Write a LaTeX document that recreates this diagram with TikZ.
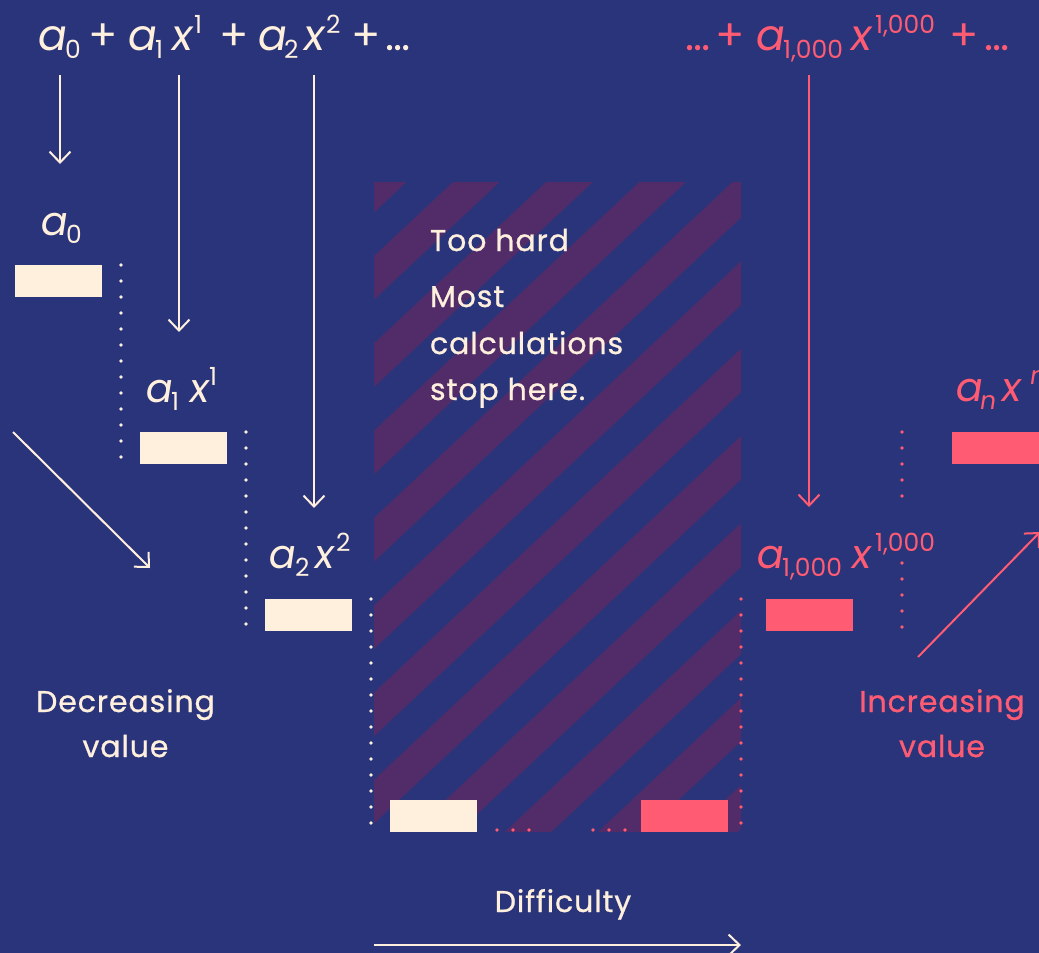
\documentclass[tikz,border=0pt]{standalone}
\usepackage{fontspec}
\setmainfont{Poppins}
\newfontfamily\txtfont[LetterSpace=3,FakeBold=0.8]{Poppins}
\newfontfamily\slfont[FakeSlant=0.15]{Poppins}
\usetikzlibrary{arrows.meta}
\definecolor{bg}{HTML}{29347A}
\definecolor{stripe}{HTML}{522C68}
\definecolor{cream}{HTML}{FFF0DE}
\definecolor{pinkc}{HTML}{FF5C73}
\newcommand\msb[1]{\raisebox{-8pt}{\fontsize{25}{25}\selectfont #1}}
\newcommand\msp[1]{\raisebox{17pt}{\fontsize{25}{25}\selectfont #1}}
\newcommand\va{{\slfont a}}
\newcommand\vx{{\slfont x}}
% \bx{width}{content}: fixed-width piece
\newcommand\bx[2]{\makebox[#1][l]{#2}}
\tikzset{
  formula/.style={inner sep=0pt, outer sep=0pt, anchor=base west, font=\fontsize{43}{49}\selectfont},
  lbl/.style={inner sep=0pt, outer sep=0pt, anchor=base west, font=\fontsize{40}{46}\selectfont},
  word/.style={inner sep=0pt, outer sep=0pt, anchor=base, font=\txtfont\fontsize{30}{36}\selectfont},
  wordl/.style={word, anchor=base west},
  bar/.style={rectangle, inner sep=0pt, outer sep=0pt, minimum width=87pt, minimum height=32pt},
  arr/.style={line width=2pt, -{Straight Barb[length=11pt,width=21pt,line width=2pt]}},
}
\begin{document}
\begin{tikzpicture}[x=1pt,y=-1pt]
\useasboundingbox (0,0) rectangle (1039,953);
\clip (0,0) rectangle (1039,953);
\fill[bg] (0,0) rectangle (1039,953);
% hatched area
\begin{scope}
  \clip (374,182) rectangle (741,831);
  \foreach \k in {-2,...,11}{
    \pgfmathsetmacro\a{606.5+87.3*\k}
    \fill[stripe] (370,{\a-0.937*370}) -- (745,{\a-0.937*745}) -- (745,{\a+43.6-0.937*745}) -- (370,{\a+43.6-0.937*370}) -- cycle;
  }
\end{scope}
% top formula (cream)
\begin{scope}[text=cream]
\node[formula] (t0) at (36,50) {\bx{29pt}{\va}\msb{0}};
\node[formula] (p1) at (88,50) {+};
\node[formula] (t1) at (126,50) {\bx{29pt}{\va}\bx{15pt}{\msb{1}}\bx{24pt}{\vx}\msp{1}};
\node[formula] (p2) at (219,50) {+};
\node[formula] (t2) at (256,50) {\bx{28pt}{\va}\bx{18pt}{\msb{2}}\bx{24pt}{\vx}\msp{2}};
\node[formula] (p3) at (351,50) {+};
\node[formula] (d1) at (385,50) {…};
\end{scope}
% top formula (pink)
\begin{scope}[text=pinkc]
\node[formula] (d2) at (685,50) {…};
\node[formula] (p4) at (715,50) {+};
\node[formula] (t3) at (754,50) {\bx{29pt}{\va}\bx{66pt}{\msb{1,000}}\bx{26pt}{\vx}\msp{1,000}};
\node[formula] (p5) at (949,50) {+};
\node[formula] (d3) at (984,50) {…};
\end{scope}
% labels
\node[lbl, text=cream] (l0) at (39,235) {\bx{27pt}{\va}\msb{0}};
\node[lbl, text=cream] (l1) at (144,402) {\bx{27pt}{\va}\bx{17pt}{\msb{1}}\bx{21pt}{\vx}\msp{1}};
\node[lbl, text=cream] (l2) at (267,568) {\bx{28pt}{\va}\bx{18pt}{\msb{2}}\bx{23pt}{\vx}\msp{2}};
\node[lbl, text=pinkc] (l3) at (755,568) {\bx{27pt}{\va}\bx{68pt}{\msb{1,000}}\bx{25pt}{\vx}\msp{1,000}};
\node[lbl, text=pinkc] (l4) at (954,401) {\bx{25pt}{\va}\bx{21pt}{\msb{\slfont n}}\bx{29pt}{\vx}\msp{\slfont n}};
% bars
\node[bar, fill=cream] (b0) at (58.5,281) {};
\node[bar, fill=cream] (b1) at (183.5,448) {};
\node[bar, fill=cream] (b2) at (308.5,615) {};
\node[bar, fill=cream] (b3) at (433.5,815.5) {};
\node[bar, fill=pinkc] (b4) at (684.5,815.5) {};
\node[bar, fill=pinkc] (b5) at (809.5,615) {};
\node[bar, fill=pinkc] (b6) at (995.5,448) {};
% dotted guides
\foreach \i in {0,...,12} \fill[cream] (121,{265+16*\i}) circle (1.8);
\foreach \i in {0,...,12} \fill[cream] (246,{432+16*\i}) circle (1.8);
\foreach \i in {0,...,14} \fill[cream] (371,{599+16*\i}) circle (1.8);
\foreach \i in {0,...,14} \fill[pinkc] (741,{599+16*\i}) circle (1.8);
\foreach \i in {0,...,2} \fill[pinkc] ({497+16*\i},830) circle (1.8);
\foreach \i in {0,...,2} \fill[pinkc] ({593+16*\i},830) circle (1.8);
\foreach \i in {0,...,4} \fill[pinkc] (902,{432+16*\i}) circle (1.8);
\foreach \i in {0,...,4} \fill[pinkc] (902,{563+16*\i}) circle (1.8);
% text
\node[wordl, text=cream] (hard) at (430,251) {Too hard};
\node[wordl, text=cream] (m1) at (430,307) {Most};
\node[wordl, text=cream] (m2) at (430,354) {calculations};
\node[wordl, text=cream] (m3) at (430,400) {stop here.};
\node[word, text=cream] (dec1) at (125.5,712) {Decreasing};
\node[word, text=cream] (dec2) at (125.5,757) {value};
\node[word, text=pinkc] (inc1) at (942,712) {Increasing};
\node[word, text=pinkc] (inc2) at (942,757) {value};
\node[word, text=cream] (diff) at (563,912) {Difficulty};
% arrows
\coordinate (a0s) at (60,75);   \coordinate (a0e) at (60,164);
\coordinate (a1s) at (179,75);  \coordinate (a1e) at (179,332);
\coordinate (a2s) at (314,75);  \coordinate (a2e) at (314,508);
\coordinate (a3s) at (809,75);  \coordinate (a3e) at (809,507);
\coordinate (dds) at (13,432);  \coordinate (dde) at (150,568);
\coordinate (iis) at (918,657); \coordinate (iie) at (1040,532);
\coordinate (dfs) at (374,945); \coordinate (dfe) at (741,945);
\draw[arr, cream] (a0s) -- (a0e);
\draw[arr, cream] (a1s) -- (a1e);
\draw[arr, cream] (a2s) -- (a2e);
\draw[arr, pinkc] (a3s) -- (a3e);
\draw[arr, cream] (dds) -- (dde);
\draw[arr, pinkc] (iis) -- (iie);
\draw[arr, cream] (dfs) -- (dfe);
\end{tikzpicture}
\end{document}
